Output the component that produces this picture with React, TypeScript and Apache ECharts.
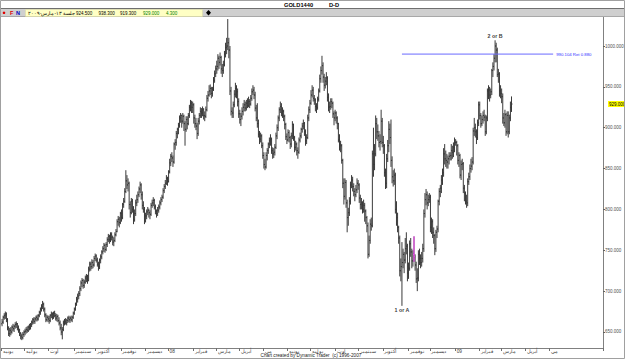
import React, { useEffect, useRef } from "react";
import * as echarts from "echarts";

// ---- Daily OHLC bars [open, high, low, close], one array per month ----
const jun07 = [[660,666,657,662],[662,670,660,668],[668,673,665,670],[670,675,666,672],[672,674,662,665],[665,667,652,655],[655,657,645,648],[648,655,644,652],[652,656,646,650],[650,658,648,656],[656,660,651,654],[654,659,650,657],[657,662,654,659],[659,663,655,660],[660,661,652,655],[655,658,649,652],[652,654,645,648],[648,650,641,645],[645,648,640,643],[643,650,641,647],[647,652,644,650]];
const jul07 = [[650,654,646,651],[651,656,648,653],[653,657,649,652],[652,658,650,656],[656,660,652,655],[655,661,653,659],[659,664,656,662],[662,667,659,665],[665,668,660,663],[663,668,660,666],[666,670,663,668],[668,671,663,666],[666,672,664,670],[670,676,668,674],[674,680,671,678],[678,684,675,681],[681,688,678,684],[684,686,675,678],[678,680,668,671],[671,673,662,665],[665,671,663,668],[668,670,662,666]];
const aug07 = [[666,670,660,664],[664,672,662,670],[670,675,667,672],[672,674,665,668],[668,675,666,673],[673,676,668,670],[670,673,664,667],[667,672,663,669],[669,671,662,664],[664,668,658,661],[661,664,652,655],[655,660,646,650],[650,656,641,653],[653,664,651,661],[661,666,658,663],[663,667,659,661],[661,666,658,664],[664,669,661,667],[667,670,662,665],[665,669,661,667],[667,670,663,665],[665,670,662,668],[668,675,666,673]];
const sep07 = [[673,680,671,678],[678,686,676,684],[684,693,682,690],[690,697,686,694],[694,700,690,697],[697,706,694,703],[703,713,700,710],[710,716,705,713],[713,715,703,707],[707,714,704,711],[711,719,709,716],[716,721,711,718],[718,720,709,713],[713,730,712,727],[727,736,724,733],[733,736,725,730],[730,739,727,735],[735,738,728,732],[732,743,730,740],[740,746,737,743]];
const oct07 = [[743,745,735,738],[738,741,730,733],[733,736,725,730],[730,740,727,738],[738,745,734,742],[742,750,739,748],[748,755,745,752],[752,759,748,756],[756,758,747,751],[751,760,749,757],[757,766,754,763],[763,770,760,767],[767,769,758,763],[763,772,760,769],[769,772,762,766],[766,768,756,760],[760,766,755,762],[762,772,760,769],[769,776,767,773],[773,788,772,785],[785,792,780,788],[788,791,778,784],[784,797,782,795]];
const nov07 = [[795,800,785,790],[790,808,788,806],[806,814,802,810],[810,826,808,822],[822,848,820,835],[835,842,825,830],[830,838,822,832],[832,834,800,806],[806,810,790,796],[796,814,794,810],[810,813,796,800],[800,804,782,787],[787,800,785,795],[795,812,792,808],[808,818,804,812],[812,822,808,818],[818,828,815,825],[825,834,820,830],[830,832,812,818],[818,822,800,805],[805,810,796,800],[800,803,782,786]];
const dec07 = [[786,796,784,792],[792,800,788,797],[797,803,793,799],[799,801,790,796],[796,799,788,794],[794,808,792,805],[805,812,802,808],[808,815,804,811],[811,813,800,803],[803,806,794,798],[798,800,790,795],[795,803,792,799],[799,806,796,803],[803,811,800,808],[808,815,805,812],[812,818,809,815],[815,826,813,823],[823,831,820,828],[828,836,825,832],[832,842,830,838],[838,840,829,834]];
const jan08 = [[834,848,833,846],[846,862,844,857],[857,868,853,865],[865,870,858,863],[863,866,852,858],[858,882,856,880],[880,886,873,882],[882,896,878,893],[893,900,887,898],[898,906,892,903],[903,915,900,912],[912,918,906,915],[915,916,900,908],[908,918,905,914],[914,916,896,905],[905,908,878,898],[898,914,895,910],[910,914,898,905],[905,918,903,915],[915,928,912,925],[925,934,920,930],[930,933,918,925],[925,932,918,928]];
const feb08 = [[928,930,905,912],[912,916,900,905],[905,912,897,902],[902,906,886,893],[893,912,890,908],[908,918,904,915],[915,925,912,920],[920,924,912,918],[918,926,914,922],[922,924,910,915],[915,920,908,914],[914,926,912,922],[922,940,920,936],[936,945,932,940],[940,952,938,945],[945,953,940,948],[948,950,936,942],[942,950,938,947],[947,962,945,958],[958,970,955,966],[966,976,962,972]];
const mar08 = [[972,982,966,975],[975,990,970,985],[985,988,972,980],[980,992,976,986],[986,988,966,972],[972,978,962,970],[970,982,966,977],[977,994,975,990],[990,1004,986,998],[998,1010,990,1000],[1000,1033,995,1004],[1004,1010,985,995],[995,1000,940,945],[945,950,915,920],[920,925,912,918],[918,932,912,928],[928,946,925,941],[941,955,937,948],[948,952,936,944],[944,948,926,932],[932,936,912,917]];
const apr08 = [[917,922,905,910],[910,918,902,914],[914,925,910,920],[920,930,915,925],[925,934,920,928],[928,932,920,924],[924,934,921,930],[930,936,924,927],[927,938,925,932],[932,935,924,929],[929,940,927,936],[936,948,933,944],[944,952,940,946],[946,950,935,940],[940,944,920,924],[924,928,908,912],[912,930,900,905],[905,910,888,892],[892,896,880,886],[886,894,882,890],[890,892,875,878],[878,882,862,866]];
const may08 = [[866,870,850,855],[855,862,848,852],[852,870,850,866],[866,875,860,872],[872,882,868,880],[880,888,875,884],[884,892,878,886],[886,888,868,872],[872,876,862,868],[868,875,863,870],[870,880,866,876],[876,894,874,890],[890,904,886,900],[900,915,896,912],[912,925,908,922],[922,932,918,926],[926,930,914,918],[918,925,912,920],[920,922,908,914],[914,916,898,904],[904,906,885,889],[889,893,880,885]];
const jun08 = [[885,898,883,894],[894,897,882,888],[888,890,874,880],[880,894,876,890],[890,908,886,904],[904,905,884,888],[888,890,870,876],[876,884,872,880],[880,882,866,872],[872,876,862,870],[870,888,868,885],[885,894,882,890],[890,900,887,898],[898,906,894,902],[902,910,898,905],[905,907,890,895],[895,898,878,884],[884,892,880,888],[888,916,886,912],[912,926,908,922],[922,934,918,930]];
const jul08 = [[930,946,928,940],[940,952,937,946],[946,950,932,936],[936,940,928,934],[934,936,920,926],[926,930,918,925],[925,938,922,935],[935,948,932,945],[945,965,943,960],[960,975,955,970],[970,988,965,976],[976,980,955,962],[962,966,945,952],[952,962,948,957],[957,968,952,961],[961,963,932,937],[937,942,920,925],[925,932,918,926],[926,936,922,932],[932,936,924,930],[930,932,912,917],[917,920,903,912],[912,922,908,918]];
const aug08 = [[918,920,905,912],[912,914,898,905],[905,906,882,885],[885,892,872,880],[880,884,870,878],[878,880,856,860],[860,862,826,832],[832,838,806,816],[816,838,812,833],[833,836,802,808],[808,812,772,790],[790,802,780,796],[796,815,792,810],[810,834,806,830],[830,842,826,836],[836,840,822,828],[828,832,816,822],[822,826,810,818],[818,830,815,824],[824,838,820,832],[832,836,824,830]];
const sep08 = [[830,832,808,814],[814,818,800,806],[806,814,800,808],[808,810,795,800],[800,812,796,805],[805,808,785,798],[798,800,782,790],[790,792,772,780],[780,784,740,745],[745,768,742,762],[762,788,758,782],[782,790,774,780],[780,872,778,868],[868,900,840,855],[855,880,848,868],[868,915,865,905],[905,912,886,895],[895,904,884,890],[890,896,876,882],[882,892,872,883],[883,922,880,908],[908,912,876,882]];
const oct08 = [[882,890,868,878],[878,880,840,845],[845,850,825,832],[832,868,826,862],[862,885,858,878],[878,908,870,898],[898,905,880,888],[888,910,852,860],[860,865,832,840],[840,848,828,835],[835,850,830,842],[842,845,795,800],[800,810,780,790],[790,796,772,778],[778,780,758,765],[765,768,718,725],[725,740,712,730],[730,760,682,735],[735,752,728,745],[745,748,722,738],[738,765,734,752],[752,772,745,755],[755,758,712,722]];
const nov08 = [[722,735,715,728],[728,762,725,758],[758,765,742,748],[748,752,728,737],[737,750,730,745],[745,767,736,742],[742,745,725,732],[732,736,710,715],[715,728,700,716],[716,750,712,745],[745,752,732,740],[740,745,728,735],[735,748,730,740],[740,758,735,752],[752,800,748,795],[795,820,790,812],[812,825,805,818],[818,822,800,808],[808,818,804,812],[812,820,808,815]];
const dec08 = [[815,818,772,778],[778,790,770,785],[785,788,765,772],[772,778,758,768],[768,770,744,752],[752,775,748,772],[772,780,765,776],[776,812,772,810],[810,826,805,822],[822,830,815,826],[826,842,820,836],[836,850,830,845],[845,875,840,868],[868,880,855,862],[862,872,852,860],[860,868,850,858],[858,866,850,862],[862,870,855,865],[865,870,860,866],[866,880,860,872],[872,878,862,870],[870,882,864,876],[876,888,870,882]];
const jan09 = [[882,886,878,882],[882,884,866,878],[878,880,855,860],[860,870,852,866],[866,868,838,842],[842,860,836,855],[855,862,848,856],[856,858,820,826],[826,830,810,820],[820,822,806,810],[810,818,802,808],[808,838,804,834],[834,845,830,840],[840,855,836,850],[850,862,845,853],[853,864,848,858],[858,900,855,896],[896,912,890,900],[900,905,888,895],[895,898,880,888],[888,910,885,906],[906,932,902,928]];
const feb09 = [[928,932,910,915],[915,918,900,905],[905,915,902,910],[910,920,905,915],[915,922,908,913],[913,916,890,895],[895,915,892,912],[912,948,908,945],[945,952,935,946],[946,950,932,940],[940,948,936,944],[944,972,940,970],[970,980,962,975],[975,990,970,985],[985,1007,980,1000],[1000,1004,980,995],[995,998,962,965],[965,972,955,966],[966,968,938,945],[945,952,936,942]];
const mar09 = [[942,948,930,938],[938,942,905,912],[912,918,902,906],[906,922,900,916],[916,918,890,895],[895,920,892,915],[915,920,888,895],[895,916,892,912],[912,932,908,925],[924.5,938.3,919.3,929]];

const months: [string, number[][]][] = [
  ["2007-06", jun07], ["2007-07", jul07], ["2007-08", aug07], ["2007-09", sep07],
  ["2007-10", oct07], ["2007-11", nov07], ["2007-12", dec07], ["2008-01", jan08],
  ["2008-02", feb08], ["2008-03", mar08], ["2008-04", apr08], ["2008-05", may08],
  ["2008-06", jun08], ["2008-07", jul08], ["2008-08", aug08], ["2008-09", sep08],
  ["2008-10", oct08], ["2008-11", nov08], ["2008-12", dec08], ["2009-01", jan09],
  ["2009-02", feb09], ["2009-03", mar09],
];

const startDate = "2007-06-01";
const categoryCount = 549;
const lastLabelMonth = "2009-05";
const monthNames = ["", "فبراير", "مارس", "أبريل", "مي", "يونيه", "يوليه", "اوت", "سبتمبر", "أكتوبر", "نوفمبر", "ديسمبر"];
const yTicks = [650, 700, 750, 800, 850, 900, 950, 1000];
const yMin = 630.4;
const yMax = 1035.5;
const lowMark = { date: "2008-10-24", value: 682, text: "1 or A" };
const highMark = { date: "2009-02-20", value: 1007, text: "2 or B" };
const retrace = { from: "2008-10-24", to: "2009-05-06", value: 990.104, text: "990.104 Ret 0.880" };
const lastClose = 929;
const magentaDate = "2008-11-10";
const quote = { session: "جلسة ١٣-مارس-٢٠٠٩", open: "924.500", high: "938.300", low: "919.300", close: "929.000", change: "4.300" };
const title = "GOLD1440";
const period = "D-D";
const credit = "Chart created by Dynamic Trader  (c) 1996-2007";

function weekdays(start: string, n: number): string[] {
  const out: string[] = [];
  const d = new Date(start + "T00:00:00Z");
  while (out.length < n) {
    const wd = d.getUTCDay();
    if (wd !== 0 && wd !== 6) out.push(d.toISOString().slice(0, 10));
    d.setUTCDate(d.getUTCDate() + 1);
  }
  return out;
}

const FONT = '"Liberation Sans", Arial, sans-serif';

export default function App() {
  const ref = useRef<HTMLDivElement>(null);
  useEffect(() => {
    if (!ref.current) return;
    const chart = echarts.init(ref.current, null, { renderer: "svg" });
    const dates = weekdays(startDate, categoryCount);
    const monthMap = new Map(months);
    const counter: Record<string, number> = {};
    const bars: number[][] = [];
    const magenta: number[][] = [];
    dates.forEach((d, i) => {
      const key = d.slice(0, 7);
      const arr = monthMap.get(key);
      if (!arr) return;
      const k = counter[key] ?? 0;
      counter[key] = k + 1;
      if (k < arr.length) {
        const item = [i, ...arr[k]];
        bars.push(item);
        if (d === magentaDate) magenta.push(item);
      }
    });
    const isMonthStart = (i: number) =>
      dates[i].slice(0, 7) <= lastLabelMonth &&
      (i === 0 || dates[i].slice(0, 7) !== dates[i - 1].slice(0, 7));

    const ohlcRender = (color: string) => (_p: any, api: any) => {
      const i = api.value(0);
      const pO = api.coord([i, api.value(1)]);
      const pH = api.coord([i, api.value(2)]);
      const pL = api.coord([i, api.value(3)]);
      const pC = api.coord([i, api.value(4)]);
      const x = pH[0];
      const st = { stroke: color, lineWidth: 1 };
      return {
        type: "group",
        children: [
          { type: "line", shape: { x1: x, y1: pH[1], x2: x, y2: pL[1] }, style: st },
          { type: "line", shape: { x1: x - 1, y1: pO[1], x2: x, y2: pO[1] }, style: st },
          { type: "line", shape: { x1: x, y1: pC[1], x2: x + 1, y2: pC[1] }, style: st },
        ],
      };
    };

    const txt = (text: string, x: number, y: number, size: number, fill: string, weight = "normal", align = "left") => ({
      type: "text",
      x, y, z: 20,
      style: { text, fill, fontSize: size, fontWeight: weight, fontFamily: FONT, align, verticalAlign: "middle" },
    });

    chart.setOption({
      animation: false,
      backgroundColor: "#ffffff",
      textStyle: { fontFamily: FONT },
      grid: { left: 1.5, right: 22, top: 17, bottom: 11, containLabel: false, outerBoundsMode: "none" },
      xAxis: {
        type: "category",
        data: dates,
        boundaryGap: true,
        axisLine: { lineStyle: { color: "#808080", width: 1 } },
        axisTick: { show: true, interval: (i: number) => isMonthStart(i), length: 3, lineStyle: { color: "#707070" } },
        axisLabel: {
          interval: (i: number) => isMonthStart(i),
          formatter: (v: string) => {
            const m = parseInt(v.slice(5, 7), 10);
            return m === 1 ? v.slice(2, 4) : monthNames[m - 1];
          },
          fontSize: 4.8,
          color: "#404040",
          align: "left",
          verticalAlign: "top",
          margin: 1,
          padding: [0, 0, 0, 1],
        },
        splitLine: { show: false },
      },
      yAxis: {
        type: "value",
        position: "right",
        min: yMin,
        max: yMax,
        axisLine: { show: true, lineStyle: { color: "#808080", width: 1 } },
        axisTick: { show: true, length: 2, customValues: yTicks, lineStyle: { color: "#606060" } },
        axisLabel: {
          customValues: yTicks,
          formatter: (v: number) => v.toFixed(3),
          fontSize: 4.5,
          color: "#505050",
          margin: 2,
        },
        splitLine: { show: false },
      },
      series: [
        {
          type: "custom",
          renderItem: ohlcRender("#3a3a3a"),
          data: bars,
          encode: { x: 0, y: [1, 2, 3, 4] },
          silent: true,
          z: 2,
        },
        {
          type: "custom",
          renderItem: ohlcRender("#ff40ff"),
          data: magenta,
          encode: { x: 0, y: [1, 2, 3, 4] },
          silent: true,
          z: 3,
        },
        {
          type: "line",
          data: [[retrace.from, retrace.value], [retrace.to, retrace.value]],
          symbol: "none",
          lineStyle: { color: "#6a6aff", width: 1 },
          endLabel: { show: true, formatter: retrace.text, fontSize: 4.3, color: "#3030ff", distance: 3, fontFamily: FONT },
          silent: true,
          z: 4,
        },
        {
          type: "scatter",
          symbolSize: 0,
          data: [[lowMark.date, lowMark.value]],
          label: { show: true, position: "bottom", distance: 2, formatter: lowMark.text, fontSize: 5.3, fontWeight: "bold", color: "#000", fontFamily: FONT },
          silent: true,
          z: 5,
          markLine: {
            silent: true,
            symbol: ["none", "none"],
            data: [{ yAxis: lastClose }],
            lineStyle: { color: "rgba(0,0,0,0)", width: 0, opacity: 1 },
            label: {
              show: true,
              position: "end",
              distance: 5,
              formatter: lastClose.toFixed(3),
              backgroundColor: "#ffff00",
              color: "#000000",
              opacity: 1,
              fontSize: 4.5,
              fontFamily: FONT,
              padding: [1, 1, 0, 1],
            },
          },
        },
        {
          type: "scatter",
          symbolSize: 0,
          data: [[highMark.date, highMark.value]],
          label: { show: true, position: "top", distance: 2, formatter: highMark.text, fontSize: 5.3, fontWeight: "bold", color: "#000", fontFamily: FONT },
          silent: true,
          z: 5,
        },
      ],
      graphic: [
        { type: "rect", shape: { x: 0, y: 8, width: 625, height: 9 }, style: { fill: "#cfcfcf" }, z: 1 },
        { type: "line", shape: { x1: 0, y1: 8.5, x2: 625, y2: 8.5 }, style: { stroke: "#6f6f6f", lineWidth: 1 }, z: 2 },
        { type: "line", shape: { x1: 0, y1: 16.5, x2: 625, y2: 16.5 }, style: { stroke: "#a8a8a8", lineWidth: 1 }, z: 2 },
        { type: "rect", shape: { x: 0.5, y: 0.5, width: 624, height: 358 }, style: { fill: "none", stroke: "#a0a0a0", lineWidth: 1 }, z: 10 },
        txt(title, 284, 4.5, 5.7, "#000", "bold"),
        txt(period, 329, 4.5, 5.7, "#000", "bold"),
        { type: "circle", shape: { cx: 4, cy: 12.8, r: 1.3 }, style: { fill: "#e00000" }, z: 3 },
        txt("F", 10, 12.8, 5.5, "#e00000", "bold"),
        txt("N", 16, 12.8, 5.5, "#0000c0", "bold"),
        { type: "rect", shape: { x: 25.5, y: 9.5, width: 177, height: 7 }, style: { fill: "#ffffc4", stroke: "#d8d8a0", lineWidth: 0.5 }, z: 3 },
        txt(quote.session, 28, 13, 4.5, "#000"),
        txt(quote.open, 76, 13, 4.5, "#000"),
        txt(quote.high, 98.5, 13, 4.5, "#000"),
        txt(quote.low, 120, 13, 4.5, "#000"),
        txt(quote.close, 143, 13, 4.5, "#008000"),
        txt(quote.change, 166, 13, 4.5, "#008000"),
        { type: "polygon", shape: { points: [[208.5, 10], [211, 12.8], [208.5, 15.5], [206, 12.8]] }, style: { fill: "#000" }, z: 3 },
        txt(credit, 311, 355.8, 4.7, "#202020", "normal", "center"),
      ],
    });
    return () => chart.dispose();
  }, []);
  return <div ref={ref} style={{ position: "fixed", left: 0, top: 0, width: 625, height: 359 }} />;
}
